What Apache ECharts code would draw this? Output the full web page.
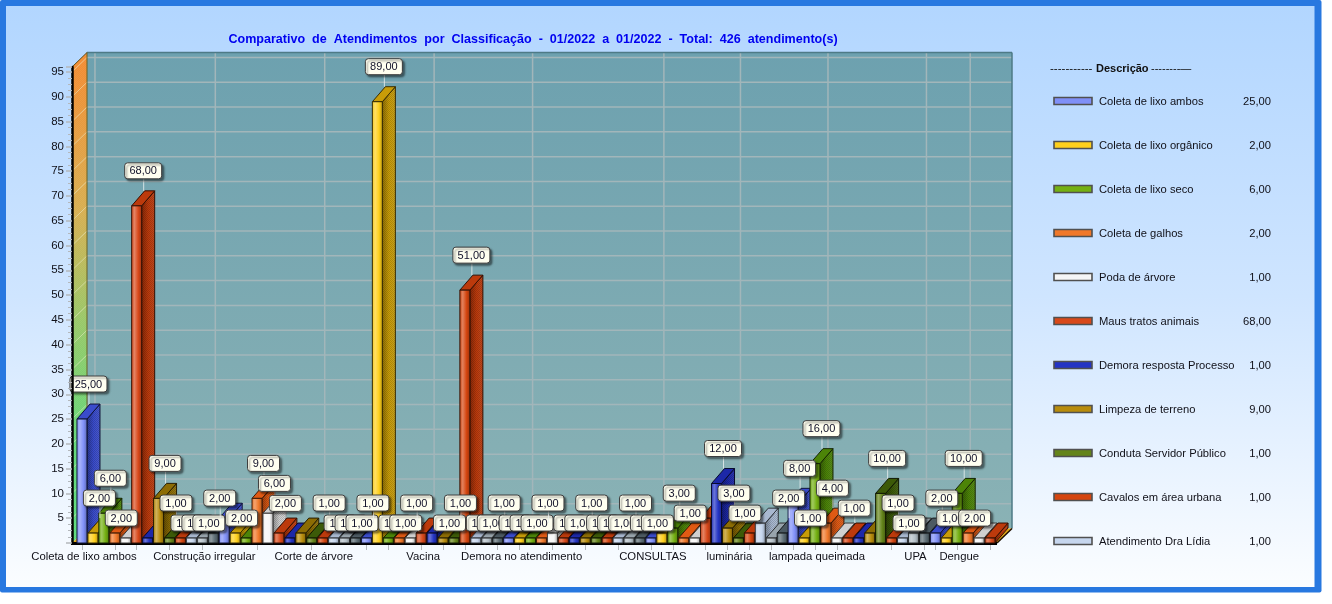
<!DOCTYPE html>
<html><head><meta charset="utf-8">
<style>html,body{margin:0;padding:0;background:#fff}#c{width:1332px;height:604px}</style>
<script src="https://cdn.jsdelivr.net/npm/echarts@6/dist/echarts.min.js"></script>
</head><body><div id="c"></div>
<script>
const titleText = 'Comparativo  de  Atendimentos  por  Classificação  -  01/2022  a  01/2022  -  Total:  426  atendimento(s)';
const values = [25,2,6,2,1,68,1,9,1,1,1,1,2, 5,2,1,9,6,2,1,2,1,1,1,1,1, 1,89,1,1,1,2,2,1,1,51,1,1,1, 1,1,1,1,2,1,1,1,1,1,1,1,1, 1,2,3,1,1,5,12,3,1,2,4,1,2, 8,1,16,4,1,1,1,2,10,1,1,2,2, 2,1,10,2,1,1];
const axisNames = {0:'Coleta de lixo ambos',11:'Construção irregular',21:'Corte de árvore',31:'Vacina',40:'Demora no atendimento',52:'CONSULTAS',59:'luminária',67:'lampada queimada',76:'UPA',80:'Dengue'};
const categories = values.map((v,i)=>axisNames[i]||'');
const legendNames = ['Coleta de lixo ambos','Coleta de lixo orgânico','Coleta de lixo seco','Coleta de galhos','Poda de árvore','Maus tratos animais','Demora resposta Processo','Limpeza de terreno','Conduta Servidor Público','Cavalos em área urbana','Atendimento Dra Lídia'];
const palette = ['#8090f8','#ffd01c','#74b012','#f0782a','#f6f6f6','#d8481a','#2434c4','#b88c0c','#64841a','#d4450f','#c6d6ee','#b4c0c8','#5c6c74'];
const sidePalette = ['#3a4ccc','#c89c08','#4c8408','#e05a14','#d0d0d0','#bc3a0c','#1c28a8','#8c6c04','#3c5a08','#bc3a0c','#a8b8d0','#98a4ac','#4c5a62'];
const unlabeled = [4,6,13,15,19,20,21,31,32,43,53,56,57,61,62,63,69,71,72,76,77,82,83];
const tickIndexes = [0,3,5,8,11,16,21,26,28,31,33,35,38,40,43,46,49,52,54,57,59,61,63,65,67,69,74,77,78,80,83];
const gridValues = [5,10,15,20,25,30,35,40,45,50,55,60,65,70,75,80,85,90,95];

const FONT = '"Liberation Sans", Arial, sans-serif';
const DX = 15, DY = 14.5, BW = 10, BDX = 13, BDY = 15;
const G = echarts.graphic;
function mix(hex, target, t){
  const a=[1,3,5].map(k=>parseInt(hex.substr(k,2),16));
  const b=target==='w'?[255,255,255]:[0,0,0];
  return 'rgb('+a.map((v,k)=>Math.round(v+(b[k]-v)*t)).join(',')+')';
}
const grad=(x2,y2,stops)=>new G.LinearGradient(0,0,x2,y2,stops.map((c,i)=>({offset:c[0],color:c[1]})));
function makeDither(color){
  const cv=document.createElement('canvas');cv.width=2;cv.height=2;
  const g=cv.getContext('2d');g.fillStyle=color;g.fillRect(0,0,1,1);g.fillRect(1,1,1,1);
  return {image:cv,repeat:'repeat'};
}
const ditherDark = makeDither('rgba(0,0,0,.16)');
const ditherLight = makeDither('rgba(255,255,255,.06)');

function renderBackdrop(params, api){
  const cs = params.coordSys;
  const yAt = v => api.coord([0,v])[1];
  const L = cs.x-4.5, R = cs.x+cs.width+1.5, B = yAt(0), T = yAt(96);
  const line = (x1,y1,x2,y2,stroke,lw)=>({type:'line',shape:{x1,y1,x2,y2},style:{stroke,lineWidth:lw}});
  const wall = [[L,B],[L+DX,B-DY],[L+DX,T-DY],[L,T]];
  const kids = [
    {type:'rect',shape:{x:L+DX,y:T-DY,width:R-L,height:B-T},style:{fill:grad(0,1,[[0,'#6da1af'],[1,'#8ab2b5']])}},
    {type:'polygon',shape:{points:wall},style:{fill:grad(0,1,[[0,'#f48a30'],[0.32,'#d8ae50'],[0.55,'#98c868'],[0.8,'#62d878'],[1,'#5cdc7c']])}},
    {type:'polygon',shape:{points:wall},style:{fill:ditherLight}},
    {type:'polygon',shape:{points:[[L,B],[R,B],[R+DX,B-DY],[L+DX,B-DY]]},style:{fill:'#e4a818'}}
  ];
  gridValues.forEach(v=>{
    const y=yAt(v);
    kids.push(line(L+DX,y-DY,R+DX,y-DY,'#a2b6ba',1.5));
    kids.push(line(L,y,L+DX,y-DY,'rgba(235,235,200,.55)',1));
  });
  categories.forEach((n,i)=>{ if(n){
    const x=api.coord([i,0])[0]+BDX;
    kids.push(line(x,T-DY,x,B-DY,'#a2b6ba',1.5));
  }});
  kids.push(line(L+DX,T-DY,R+DX,T-DY,'#4e7a86',1.5));
  kids.push(line(R+DX,T-DY,R+DX,B-DY,'#4e7a86',1.5));
  kids.push(line(L+DX,T-DY,L+DX,B-DY,'#6a6020',1));
  kids.push(line(L,T,L+DX,T-DY,'#5a5020',1));
  kids.push(line(R,B,R+DX,B-DY,'#201000',1.5));
  kids.push(line(L-1,B+.5,R,B+.5,'#000',3));
  return {type:'group',children:kids};
}

function renderBar(params, api){
  const i = api.value(0), v = api.value(1);
  const c = api.coord([i,v]), base = api.coord([i,0])[1];
  const x = c[0]-BW/2, y = c[1], col = palette[i%palette.length], side = sidePalette[i%palette.length];
  const edge = mix(side,'k',.72);
  const sidePts = [[x+BW,y],[x+BW+BDX,y-BDY],[x+BW+BDX,base-BDY],[x+BW,base]];
  return {type:'group',children:[
    {type:'polygon',shape:{points:sidePts},
      style:{fill:grad(1,0,[[0,mix(side,'k',.32)],[.5,side],[1,mix(side,'w',.08)]]),stroke:edge,lineWidth:1}},
    {type:'polygon',shape:{points:sidePts},style:{fill:ditherDark}},
    {type:'polygon',shape:{points:[[x,y],[x+BDX,y-BDY],[x+BW+BDX,y-BDY],[x+BW,y]]},
      style:{fill:side,stroke:edge,lineWidth:1}},
    {type:'rect',shape:{x,y,width:BW,height:base-y},
      style:{fill:grad(1,0,[[0,mix(col,'k',.05)],[.3,mix(col,'w',.32)],[.65,col],[1,mix(col,'k',.3)]]),stroke:edge,lineWidth:1}}
  ]};
}

let placed = [];
function renderMark(params, api){
  const i = api.value(0), v = api.value(1);
  if(i===0) placed=[];
  if(unlabeled.includes(i)) return null;
  const c = api.coord([i,v]);
  const cx = c[0]+7, top = c[1]-BDY;
  let cy = top-20;
  for(let j=placed.length-1;j>=0;j--){
    const p=placed[j];
    if(Math.abs(p.cx-cx)<34 && Math.abs(p.cy-cy)<19){cy=p.cy+20;break;}
  }
  placed.push({cx,cy});
  const text = v.toFixed(2).replace('.',',');
  const w = text.length>4?37:32, h=16;
  return {type:'group',children:[
    {type:'line',shape:{x1:cx,y1:top,x2:cx,y2:cy},style:{stroke:'rgba(235,240,240,.8)',lineWidth:1}},
    {type:'rect',shape:{x:cx-w/2-.5,y:cy-h/2,width:w,height:h,r:3},
      style:{fill:'#fffff0',stroke:'#3c3c3c',lineWidth:1,shadowColor:'rgba(0,0,0,.45)',shadowBlur:2,shadowOffsetX:2,shadowOffsetY:2}},
    {type:'text',style:{x:cx-.5,y:cy+.5,text,align:'center',verticalAlign:'middle',font:'11px '+FONT,fill:'#101028'}}
  ]};
}

const legendEls = [];
legendNames.forEach((n,k)=>{
  const y = 101+44*k;
  legendEls.push({type:'rect',shape:{x:1054,y:y-3.5,width:38,height:7},style:{fill:palette[k],stroke:'#505050',lineWidth:1.6}});
  legendEls.push({type:'text',style:{x:1099,y:y+1,text:n,font:'11.2px '+FONT,fill:'#101018',verticalAlign:'middle'}});
  legendEls.push({type:'text',style:{x:1271,y:y+1,text:values[k].toFixed(2).replace('.',','),font:'11.2px '+FONT,fill:'#101018',align:'right',verticalAlign:'middle'}});
});

const option = {
  animation:false,
  graphic:[
    {type:'rect',z:-20,shape:{x:0,y:0,width:1321.5,height:592.5,r:2},style:{fill:'#2878e0'}},
    {type:'rect',z:-19,shape:{x:6,y:6,width:1308.5,height:581},style:{fill:grad(0,1,[[0,'#b2d6ff'],[.5,'#cfe5ff'],[1,'#fbfdff']])}},
    {type:'text',z:10,style:{x:533,y:40,text:titleText,font:'bold 12.55px '+FONT,fill:'#0000f0',align:'center',verticalAlign:'middle'}},
    {type:'text',z:10,style:{x:1050,y:68.5,text:'-----------',font:'11.6px '+FONT,fill:'#101010',verticalAlign:'middle'}},
    {type:'text',z:10,style:{x:1096,y:68.5,text:'Descrição',font:'bold 11px '+FONT,fill:'#101010',verticalAlign:'middle'}},
    {type:'text',z:10,style:{x:1151,y:68.5,text:'--------—',font:'11px '+FONT,fill:'#101010',verticalAlign:'middle'}},
    ...legendEls.map(e=>Object.assign({z:10},e))
  ],
  grid:{left:76.5,top:67,width:919,bottom:61,containLabel:false},
  xAxis:{type:'category',data:categories,
    axisLine:{show:false},
    axisTick:{show:true,alignWithLabel:true,length:7,interval:(idx)=>tickIndexes.includes(idx),lineStyle:{color:'#b4b8bc',width:1}},
    axisLabel:{show:true,interval:0,margin:8,fontFamily:'Liberation Sans',fontSize:11.3,color:'#101018',padding:[0,0,0,4],hideOverlap:false},
    splitLine:{show:false}},
  yAxis:{type:'value',min:0,max:96,interval:5,offset:4.5,z:5,
    axisLine:{show:true,lineStyle:{color:'#000',width:2.5}},
    axisTick:{show:true,length:6,lineStyle:{color:'#b4b8bc',width:1.5}},
    minorTick:{show:true,splitNumber:4,length:4,lineStyle:{color:'#b4b8bc',width:1}},
    axisLabel:{margin:8,fontFamily:'Liberation Sans',fontSize:11.5,color:'#101018',padding:[4,0,0,0],showMinLabel:true,showMaxLabel:true,
      formatter:v=>(v>0&&v%5===0)?String(v):''},
    splitLine:{show:false}},
  series:[
    {type:'custom',z:1,silent:true,renderItem:renderBackdrop,data:[[0,0]],clip:false},
    {type:'custom',z:2,silent:true,renderItem:renderBar,data:values.map((v,i)=>[i,v]),encode:{x:0,y:1},clip:false},
    {type:'custom',z:3,silent:true,renderItem:renderMark,data:values.map((v,i)=>[i,v]),encode:{x:0,y:1},clip:false}
  ]
};
const chart = echarts.init(document.getElementById('c'),null,{renderer:'canvas'});
chart.setOption(option);
</script></body></html>
